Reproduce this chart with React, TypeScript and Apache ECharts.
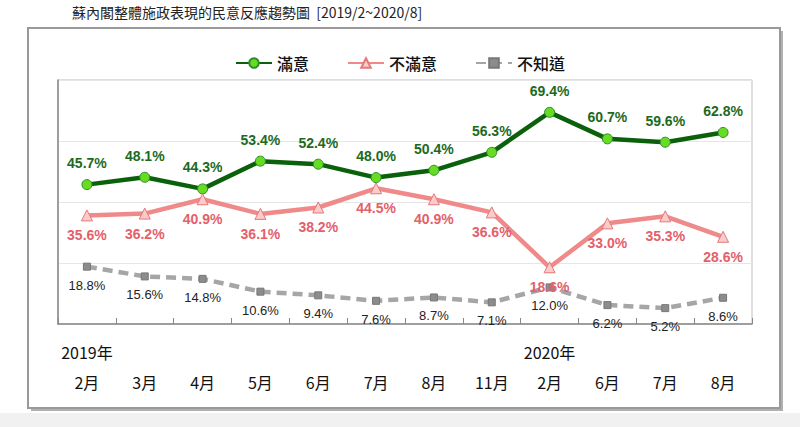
import React, { useEffect, useRef } from "react";
import * as echarts from "echarts";

const months = ["2月", "3月", "4月", "5月", "6月", "7月", "8月", "11月", "2月", "6月", "7月", "8月"];
const years = ["2019年", "", "", "", "", "", "", "", "2020年", "", "", ""];
const satisfied = [45.7, 48.1, 44.3, 53.4, 52.4, 48.0, 50.4, 56.3, 69.4, 60.7, 59.6, 62.8];
const dissatisfied = [35.6, 36.2, 40.9, 36.1, 38.2, 44.5, 40.9, 36.6, 18.6, 33.0, 35.3, 28.6];
const unknown = [18.8, 15.6, 14.8, 10.6, 9.4, 7.6, 8.7, 7.1, 12.0, 6.2, 5.2, 8.6];
const title = "蘇內閣整體施政表現的民意反應趨勢圖  [2019/2~2020/8]";

const CJK = '"Noto Sans CJK TC", "Noto Sans", sans-serif';
const NUM = '"Liberation Sans", Arial, sans-serif';

export default function App() {
  const ref = useRef<HTMLDivElement>(null);
  useEffect(() => {
    if (!ref.current) return;
    const chart = echarts.init(ref.current, undefined, { renderer: "svg" });
    chart.setOption({
      animation: false,
      backgroundColor: "#ffffff",
      graphic: [
        { type: "rect", z: -10, shape: { x: 0, y: 413, width: 800, height: 14 }, style: { fill: "#f1f1f1" } },
        { type: "rect", z: -9, shape: { x: 31, y: 31, width: 752, height: 380 }, style: { fill: "#b0b0b0" } },
        { type: "rect", z: -8, shape: { x: 28, y: 28, width: 752, height: 380 }, style: { fill: "#ffffff", stroke: "#999999", lineWidth: 2 } },
        { type: "text", left: 72, top: 5, style: { text: title, font: `14px ${CJK}`, fill: "#222" } },
      ],
      legend: {
        top: 50,
        left: "center",
        itemWidth: 36,
        itemHeight: 12,
        itemGap: 38,
        textStyle: { fontFamily: CJK, fontSize: 16, color: "#111", fontWeight: 500 },
        data: ["滿意", "不滿意", "不知道"],
      },
      grid: { left: 58, right: 48, top: 80, bottom: 103, show: true, borderColor: "#bdbdbd", borderWidth: 1 },
      xAxis: [
        {
          type: "category",
          data: months,
          boundaryGap: true,
          axisLine: { lineStyle: { color: "#888", width: 1.5 } },
          axisTick: { show: true, inside: true, length: 6, lineStyle: { color: "#888" } },
          axisLabel: { margin: 50, fontFamily: CJK, fontSize: 16, color: "#111" },
        },
        {
          type: "category",
          data: years,
          position: "bottom",
          boundaryGap: true,
          axisLine: { show: false },
          axisTick: { show: false },
          axisLabel: { margin: 20, fontFamily: CJK, fontSize: 16, color: "#111", interval: 0 },
        },
      ],
      yAxis: {
        type: "value",
        min: 0,
        max: 80,
        interval: 20,
        axisLabel: { show: false },
        axisTick: { show: false },
        axisLine: { show: true, lineStyle: { color: "#888", width: 1.5 } },
        splitLine: { lineStyle: { color: "#e6e6e6", width: 1 } },
      },
      series: [
        {
          name: "滿意",
          type: "line",
          data: satisfied,
          symbol: "circle",
          symbolSize: 10,
          lineStyle: { color: "#0b610b", width: 4.5 },
          itemStyle: { color: "#66dd22", borderColor: "#2e8b2e", borderWidth: 1 },
          label: {
            show: true,
            position: "top",
            distance: 9,
            formatter: (p: any) => p.value.toFixed(1) + "%",
            fontFamily: NUM,
            fontWeight: "bold",
            fontSize: 14,
            color: "#1d6a1d",
          },
          z: 3,
        },
        {
          name: "不滿意",
          type: "line",
          data: dissatisfied,
          symbol: "triangle",
          symbolSize: 11,
          lineStyle: { color: "#f08a8a", width: 4.5 },
          itemStyle: { color: "#fbcaca", borderColor: "#e27a7a", borderWidth: 1 },
          label: {
            show: true,
            position: "bottom",
            distance: 7,
            formatter: (p: any) => p.value.toFixed(1) + "%",
            fontFamily: NUM,
            fontWeight: "bold",
            fontSize: 14,
            color: "#e4606a",
          },
          z: 3,
        },
        {
          name: "不知道",
          type: "line",
          data: unknown,
          symbol: "rect",
          symbolSize: 7,
          lineStyle: { color: "#a6a6a6", width: 4.5, type: [10, 6] },
          itemStyle: { color: "#8c8c8c", borderColor: "#777", borderWidth: 1 },
          label: {
            show: true,
            position: "bottom",
            distance: 8,
            formatter: (p: any) => p.value.toFixed(1) + "%",
            fontFamily: NUM,
            fontSize: 13,
            color: "#222",
          },
          z: 1,
        },
      ],
    });
    return () => chart.dispose();
  }, []);
  return (
    <div
      ref={ref}
      style={{ position: "fixed", left: 0, top: 0, width: 800, height: 427 }}
    />
  );
}
